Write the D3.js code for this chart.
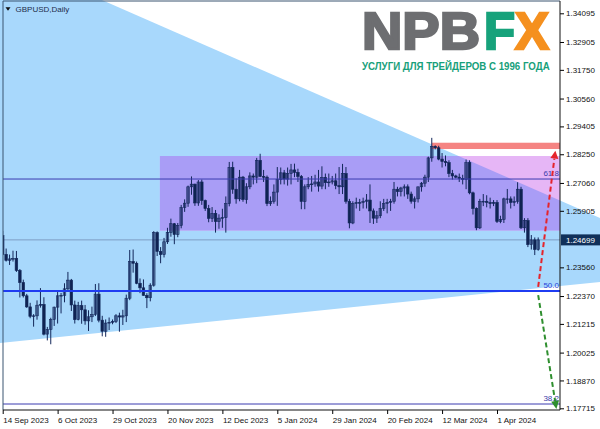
<!DOCTYPE html>
<html><head><meta charset="utf-8">
<script src="https://cdn.jsdelivr.net/npm/d3@7"></script>
<style>html,body{margin:0;padding:0;background:#fff;overflow:hidden}svg{display:block}</style>
</head><body>
<svg id="c" width="600" height="429"></svg>
<script>
const symbolTitle = "GBPUSD,Daily";
// daily candles [open, high, low, close], oldest first
const ohlc = [
[1.2488,1.2507,1.2406,1.2410],[1.2410,1.2434,1.2380,1.2385],[1.2385,1.2409,1.2366,1.2391],[1.2391,1.2425,1.2380,1.2393],
[1.2393,1.2424,1.2337,1.2343],[1.2343,1.2349,1.2231,1.2293],[1.2293,1.2305,1.2231,1.2238],[1.2238,1.2246,1.2188,1.2192],
[1.2192,1.2209,1.2145,1.2153],[1.2153,1.2162,1.2110,1.2155],[1.2155,1.2219,1.2139,1.2199],[1.2199,1.2270,1.2189,1.2202],
[1.2202,1.2232,1.2074,1.2079],[1.2079,1.2109,1.2053,1.2099],[1.2099,1.2147,1.2037,1.2140],[1.2140,1.2193,1.2113,1.2191],
[1.2191,1.2260,1.2123,1.2238],[1.2238,1.2250,1.2165,1.2240],[1.2240,1.2290,1.2211,1.2267],[1.2267,1.2337,1.2255,1.2303],
[1.2303,1.2308,1.2175,1.2200],[1.2200,1.2218,1.2123,1.2139],[1.2139,1.2213,1.2136,1.2197],[1.2197,1.2218,1.2122,1.2180],
[1.2180,1.2200,1.2118,1.2134],[1.2134,1.2178,1.2092,1.2151],[1.2151,1.2193,1.2129,1.2160],[1.2160,1.2287,1.2154,1.2245],
[1.2245,1.2290,1.2128,1.2137],[1.2137,1.2155,1.2070,1.2091],[1.2091,1.2140,1.2068,1.2125],[1.2125,1.2148,1.2096,1.2128],
[1.2128,1.2140,1.2120,1.2132],[1.2132,1.2162,1.2125,1.2155],[1.2155,1.2168,1.2089,1.2150],[1.2150,1.2180,1.2117,1.2155],
[1.2155,1.2243,1.2129,1.2228],[1.2228,1.2428,1.2220,1.2380],[1.2380,1.2430,1.2334,1.2373],[1.2373,1.2380,1.2286,1.2290],
[1.2290,1.2310,1.2249,1.2271],[1.2271,1.2306,1.2238,1.2240],[1.2240,1.2249,1.2187,1.2230],[1.2230,1.2290,1.2215,1.2282],
[1.2282,1.2506,1.2276,1.2500],[1.2500,1.2505,1.2403,1.2422],[1.2422,1.2440,1.2373,1.2409],[1.2409,1.2478,1.2397,1.2462],
[1.2462,1.2520,1.2453,1.2501],[1.2501,1.2558,1.2483,1.2537],[1.2537,1.2540,1.2452,1.2492],[1.2492,1.2540,1.2481,1.2530],
[1.2530,1.2615,1.2518,1.2604],[1.2604,1.2638,1.2586,1.2622],[1.2622,1.2695,1.2607,1.2690],[1.2690,1.2733,1.2657,1.2701],
[1.2701,1.2703,1.2611,1.2623],[1.2623,1.2718,1.2611,1.2710],[1.2710,1.2720,1.2615,1.2633],[1.2633,1.2637,1.2590,1.2600],
[1.2600,1.2615,1.2543,1.2559],[1.2559,1.2606,1.2544,1.2580],[1.2580,1.2594,1.2500,1.2546],[1.2546,1.2576,1.2516,1.2560],
[1.2560,1.2599,1.2520,1.2562],[1.2562,1.2650,1.2500,1.2620],[1.2620,1.2793,1.2609,1.2770],[1.2770,1.2794,1.2661,1.2680],
[1.2680,1.2725,1.2620,1.2640],[1.2640,1.2760,1.2630,1.2730],[1.2730,1.2735,1.2628,1.2637],[1.2637,1.2705,1.2620,1.2690],
[1.2690,1.2750,1.2680,1.2735],[1.2735,1.2745,1.2700,1.2730],[1.2730,1.2810,1.2705,1.2800],[1.2800,1.2827,1.2730,1.2733],
[1.2733,1.2760,1.2710,1.2730],[1.2730,1.2737,1.2610,1.2620],[1.2620,1.2650,1.2611,1.2630],[1.2630,1.2700,1.2620,1.2668],
[1.2668,1.2772,1.2611,1.2720],[1.2720,1.2770,1.2700,1.2748],[1.2748,1.2760,1.2700,1.2722],[1.2722,1.2770,1.2695,1.2745],
[1.2745,1.2785,1.2700,1.2760],[1.2760,1.2786,1.2730,1.2750],[1.2750,1.2765,1.2710,1.2733],[1.2733,1.2739,1.2597,1.2629],
[1.2629,1.2700,1.2597,1.2690],[1.2690,1.2730,1.2680,1.2700],[1.2700,1.2735,1.2670,1.2702],[1.2702,1.2740,1.2690,1.2710],
[1.2710,1.2760,1.2670,1.2693],[1.2693,1.2775,1.2680,1.2729],[1.2729,1.2745,1.2680,1.2707],[1.2707,1.2745,1.2690,1.2710],
[1.2710,1.2735,1.2700,1.2715],[1.2715,1.2745,1.2680,1.2695],[1.2695,1.2772,1.2660,1.2690],[1.2690,1.2785,1.2660,1.2745],
[1.2745,1.2772,1.2620,1.2630],[1.2630,1.2640,1.2518,1.2540],[1.2540,1.2630,1.2535,1.2620],[1.2620,1.2645,1.2600,1.2625],
[1.2625,1.2640,1.2590,1.2625],[1.2625,1.2645,1.2600,1.2630],[1.2630,1.2660,1.2600,1.2635],[1.2635,1.2700,1.2540,1.2590],
[1.2590,1.2600,1.2536,1.2560],[1.2560,1.2590,1.2540,1.2570],[1.2570,1.2630,1.2560,1.2600],[1.2600,1.2640,1.2590,1.2620],
[1.2620,1.2640,1.2580,1.2625],[1.2625,1.2640,1.2590,1.2630],[1.2630,1.2710,1.2620,1.2680],[1.2680,1.2690,1.2650,1.2670],
[1.2670,1.2690,1.2650,1.2685],[1.2685,1.2700,1.2650,1.2690],[1.2690,1.2700,1.2640,1.2660],[1.2660,1.2670,1.2620,1.2630],
[1.2630,1.2650,1.2600,1.2640],[1.2640,1.2690,1.2625,1.2690],[1.2690,1.2710,1.2670,1.2705],[1.2705,1.2740,1.2690,1.2730],
[1.2730,1.2815,1.2710,1.2810],[1.2810,1.2893,1.2794,1.2858],[1.2858,1.2862,1.2845,1.2852],[1.2852,1.2860,1.2800,1.2805],
[1.2805,1.2830,1.2770,1.2795],[1.2795,1.2820,1.2775,1.2790],[1.2790,1.2800,1.2730,1.2745],[1.2745,1.2760,1.2720,1.2735],
[1.2735,1.2740,1.2725,1.2730],[1.2730,1.2745,1.2710,1.2725],[1.2725,1.2740,1.2700,1.2720],[1.2720,1.2803,1.2680,1.2790],
[1.2790,1.2800,1.2659,1.2665],[1.2665,1.2670,1.2575,1.2600],[1.2600,1.2605,1.2510,1.2520],[1.2520,1.2640,1.2515,1.2630],
[1.2630,1.2660,1.2610,1.2630],[1.2630,1.2655,1.2605,1.2625],[1.2625,1.2645,1.2600,1.2620],[1.2620,1.2635,1.2610,1.2625],
[1.2625,1.2635,1.2540,1.2546],[1.2546,1.2570,1.2539,1.2555],[1.2555,1.2645,1.2540,1.2640],[1.2640,1.2681,1.2620,1.2640],
[1.2640,1.2650,1.2600,1.2625],[1.2625,1.2650,1.2610,1.2630],[1.2630,1.2709,1.2620,1.2680],[1.2680,1.2690,1.2515,1.2520],
[1.2520,1.2560,1.2500,1.2550],[1.2550,1.2560,1.2440,1.2450],[1.2450,1.2490,1.2430,1.2470],[1.2470,1.2480,1.2407,1.2430],
[1.2430,1.2480,1.2425,1.2470]
];
const priceTicks = [1.34095,1.32905,1.31750,1.30560,1.29405,1.28250,1.27060,1.25905,1.23560,1.22370,1.21215,1.20025,1.18870,1.17715];
const dateLabels = ["14 Sep 2023","6 Oct 2023","29 Oct 2023","20 Nov 2023","12 Dec 2023","5 Jan 2024","29 Jan 2024","20 Feb 2024","12 Mar 2024","1 Apr 2024"];
const barsPerDateLabel = 16;
const lastPrice = 1.24699;
const fibLabels = ["61.8","50.0","38.2"];
const fibPrices = [1.27223, 1.22579, 1.17893];
// drawing objects as [barIndex, price] anchors
const wedgeUpper = [[28.9, 1.34646],[158.5, 1.26573]];
const wedgeLower = [[-0.8, 1.20423],[174.0, 1.22954]];
const rangeBox = [[45.8, 1.28177],[175, 1.25088]];
const targetBox = [[125.0, 1.28728],[175, 1.28467]];
const upArrow = [[156, 1.2275],[161.0, 1.2840]];
const downArrow = [[156, 1.2241],[161.3, 1.1769]];
const logoMain = ["NPB","F","X"];
const logoSub = "УСЛУГИ ДЛЯ ТРЕЙДЕРОВ С 1996 ГОДА";

const W = 600, H = 429;
const plot = {l:3, r:560, t:1, b:410};
const x = d3.scaleLinear().domain([0, 144]).range([2.7, 497]);
const y = d3.scaleLinear().domain([1.17715, 1.34095]).range([408.3, 13.3]);
const FONT = "'Liberation Sans', Arial, sans-serif";

const svg = d3.select("#c");
svg.append("rect").attr("width", W).attr("height", H).attr("fill", "#fff");
const defs = svg.append("defs");
defs.append("clipPath").attr("id","plotClip").append("rect")
  .attr("x",plot.l).attr("y",plot.t).attr("width",plot.r-plot.l).attr("height",plot.b-plot.t);

function yOn(pts, X){
  const x1=x(pts[0][0]), y1=y(pts[0][1]), x2=x(pts[1][0]), y2=y(pts[1][1]);
  return y1 + (y2-y1)*(X-x1)/(x2-x1);
}
const wedgePts = [[-5,yOn(wedgeUpper,-5)],[605,yOn(wedgeUpper,605)],[605,yOn(wedgeLower,605)],[-5,yOn(wedgeLower,-5)]];
const wedgeStr = wedgePts.map(p=>p.join(",")).join(" ");
defs.append("clipPath").attr("id","wedgeClip").append("polygon").attr("points", wedgeStr);
svg.append("polygon").attr("points", wedgeStr).attr("fill", "#a8d8fc");

const pg = svg.append("g").attr("clip-path","url(#plotClip)");
// range box (two tints: over white and over the blue wedge)
const bx = x(rangeBox[0][0]), bw = x(rangeBox[1][0]) - bx, by = y(rangeBox[0][1]), bh = y(rangeBox[1][1]) - by;
pg.append("rect").attr("x",bx).attr("y",by).attr("width",bw).attr("height",bh).attr("fill","#e6b6f6");
pg.append("g").attr("clip-path","url(#wedgeClip)").append("rect")
  .attr("x",bx).attr("y",by).attr("width",bw).attr("height",bh).attr("fill","#a99df6");
// target box
pg.append("rect").attr("x",x(targetBox[0][0])).attr("y",y(targetBox[0][1]))
  .attr("width",x(targetBox[1][0])-x(targetBox[0][0])).attr("height",y(targetBox[1][1])-y(targetBox[0][1]))
  .attr("fill","#f58482");

// last price line
pg.append("line").attr("x1",plot.l).attr("x2",plot.r).attr("y1",y(lastPrice)).attr("y2",y(lastPrice))
  .attr("stroke","#7e9ec4").attr("stroke-width",1);

// candles
const cg = pg.append("g");
ohlc.forEach((d,i)=>{
  const [o,h,l,c] = d;
  const cx = x(i);
  cg.append("line").attr("x1",cx).attr("x2",cx).attr("y1",y(h)).attr("y2",y(l))
    .attr("stroke","#13275a").attr("stroke-width",1);
  const top = y(Math.max(o,c)), bot = y(Math.min(o,c));
  const bull = c >= o;
  cg.append("rect").attr("x",cx-1.3).attr("y",top).attr("width",2.6).attr("height",Math.max(0.8,bot-top))
    .attr("fill", bull ? "rgba(20,38,95,0.42)" : "#0f2352")
    .attr("stroke","#13275a").attr("stroke-width",0.6);
});

// fib levels
const fibColors = ["#3a3ab0","#1f3cf2","#3b3bb0"];
const fibWidths = [1,2,1];
fibPrices.forEach((p,k)=>{
  pg.append("line").attr("x1",plot.l).attr("x2",plot.r).attr("y1",y(p)).attr("y2",y(p))
    .attr("stroke",fibColors[k]).attr("stroke-width",fibWidths[k]);
  svg.append("text").attr("x",plot.r-1).attr("y",y(p)-3).attr("text-anchor","end")
    .attr("font-family",FONT).attr("font-size","8px").attr("fill",k===1?"#2a40d8":"#3b3ba8").text(fibLabels[k]);
});

// arrows
function arrow(pts, color){
  const x1=x(pts[0][0]), y1=y(pts[0][1]), x2=x(pts[1][0]), y2=y(pts[1][1]);
  const len = Math.hypot(x2-x1,y2-y1), ux=(x2-x1)/len, uy=(y2-y1)/len;
  const hl = 8, hw = 4;
  const bxp = x2-ux*hl, byp = y2-uy*hl;
  svg.append("line").attr("x1",x1).attr("y1",y1).attr("x2",bxp).attr("y2",byp)
    .attr("stroke",color).attr("stroke-width",2).attr("stroke-dasharray","5,3");
  const pts2 = [[x2,y2],[bxp-uy*hw, byp+ux*hw],[bxp+uy*hw, byp-ux*hw]];
  svg.append("polygon").attr("points",pts2.map(p=>p.join(",")).join(" ")).attr("fill",color);
}
arrow(upArrow, "#e5242b");
arrow(downArrow, "#2f8f2f");

// frame
svg.append("line").attr("x1",plot.l).attr("x2",plot.l).attr("y1",plot.t).attr("y2",plot.b).attr("stroke","#3a5570").attr("stroke-width",1);
svg.append("line").attr("x1",plot.l).attr("x2",plot.r).attr("y1",plot.t).attr("y2",plot.t).attr("stroke","#3a5570").attr("stroke-width",1);

// right axis
const ya = svg.append("g").attr("transform",`translate(${plot.r},0)`)
  .call(d3.axisRight(y).tickValues(priceTicks).tickSize(4).tickSizeOuter(0).tickFormat(d3.format(".5f")));
ya.select(".domain").remove();
ya.selectAll("line").attr("stroke","#000");
ya.selectAll("text").attr("x",6).attr("font-family",FONT).attr("font-size","8px").attr("fill","#111");
svg.append("line").attr("x1",plot.r).attr("x2",plot.r).attr("y1",plot.t).attr("y2",plot.b).attr("stroke","#111");

// bottom axis
const xa = svg.append("g").attr("transform",`translate(0,${plot.b})`)
  .call(d3.axisBottom(x).tickValues(dateLabels.map((d,k)=>k*barsPerDateLabel)).tickSize(4).tickSizeOuter(0)
    .tickFormat((d,k)=>dateLabels[k]));
xa.select(".domain").remove();
xa.selectAll("line").attr("stroke","#000");
xa.selectAll("text").attr("text-anchor","start").attr("x",0).attr("y",7)
  .attr("font-family",FONT).attr("font-size","8px").attr("fill","#111");
svg.append("line").attr("x1",plot.l).attr("x2",plot.r).attr("y1",plot.b).attr("y2",plot.b).attr("stroke","#111");

// last price box
const ly = y(lastPrice);
svg.append("rect").attr("x",plot.r+1).attr("y",ly-5.5).attr("width",W-plot.r-1).attr("height",11).attr("fill","#10305a");
svg.append("text").attr("x",plot.r+6).attr("y",ly).attr("dy","0.35em").attr("font-family",FONT).attr("font-size","8px")
  .attr("fill","#fff").text(d3.format(".5f")(lastPrice));

// title
svg.append("path").attr("d","M5.5,7.3 L10.5,7.3 L8,10.8 Z").attr("fill","#111");
svg.append("text").attr("x",15.5).attr("y",12.3).attr("font-family",FONT).attr("font-size","8px").attr("fill","#1e2d4a").text(symbolTitle);

// logo
const lg = svg.append("g").attr("font-family",FONT).attr("font-weight","bold");
const logoColors = ["#6d6e71","#17a27b","#f5901e"];
const logoX = [362, 484, 515], logoW = [118, 31, 34];
logoMain.forEach((t,k)=>{
  lg.append("text").attr("x",logoX[k]).attr("y",49).attr("font-size","51px").attr("fill",logoColors[k])
    .attr("stroke",logoColors[k]).attr("stroke-width",2.4)
    .attr("textLength",logoW[k]).attr("lengthAdjust","spacingAndGlyphs").text(t);
});
const subG = lg.append("g");
const sub = subG.append("text").attr("x",0).attr("y",0).attr("font-size","11px").attr("fill","#17a07a").text(logoSub);
const natural = sub.node().getComputedTextLength();
subG.attr("transform",`translate(362,70) scale(${188/natural},1)`);
</script>
</body></html>
